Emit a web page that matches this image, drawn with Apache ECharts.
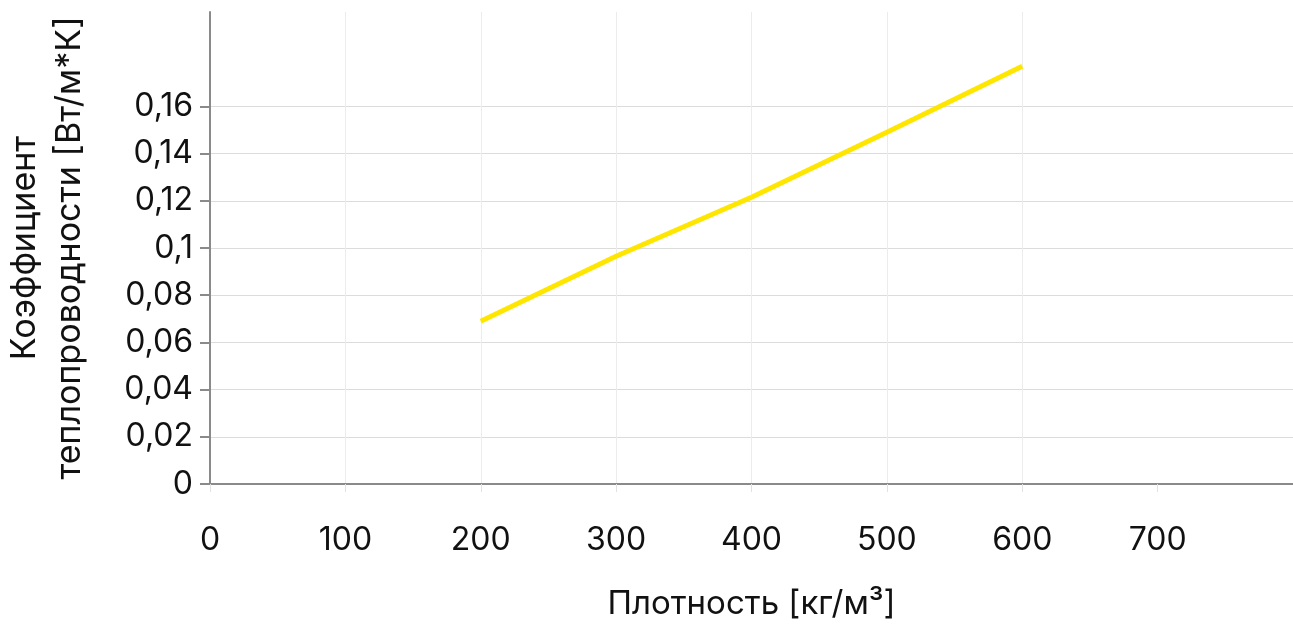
<!DOCTYPE html>
<html>
<head>
<meta charset="utf-8">
<style>
  html, body { margin: 0; padding: 0; background: #fff; }
  #chart { width: 1293px; height: 624px; }
</style>
<script src="https://cdn.jsdelivr.net/npm/echarts@6/dist/echarts.min.js"></script>
</head>
<body>
<div id="chart"></div>
<script>
// density, kg/m3
const density = [200, 300, 400, 500, 600];
// thermal conductivity, W/(m*K)
const conductivity = [0.069, 0.0965, 0.1215, 0.149, 0.177];
const yTicks = [0, 0.02, 0.04, 0.06, 0.08, 0.1, 0.12, 0.14, 0.16];
const xTicks = [0, 100, 200, 300, 400, 500, 600, 700];

const fontFamily = "Inter, 'Noto Sans', sans-serif";
const fmt = (v) => String(+(+v).toFixed(2)).replace(".", ",");

const chart = echarts.init(document.getElementById("chart"));
chart.setOption({
  animation: false,
  textStyle: { fontFamily },
  grid: {
    left: 210,
    right: 0,
    top: 12,
    bottom: 140,
    containLabel: false,
    outerBoundsMode: "none",
  },
  xAxis: {
    type: "value",
    min: 0,
    max: 800,
    interval: 100,
    name: "Плотность [кг/м³]",
    nameLocation: "middle",
    nameGap: 104,
    nameTextStyle: { fontSize: 33, color: "#111", fontFamily },
    axisLine: { lineStyle: { color: "#8a8a8a", width: 2 } },
    axisTick: {
      show: true,
      length: 8,
      lineStyle: { color: "#e2e2e2" },
      customValues: xTicks,
    },
    axisLabel: {
      fontSize: 32,
      color: "#111",
      margin: 40,
      customValues: xTicks,
    },
    splitLine: {
      show: true,
      showMaxLine: false,
      lineStyle: { color: "#ececec", width: 1 },
    },
  },
  yAxis: {
    type: "value",
    min: 0,
    max: 0.2,
    interval: 0.02,
    name: "Коэффициент\nтеплопроводности [Вт/м*К]",
    nameLocation: "middle",
    nameRotate: 90,
    nameGap: 118,
    nameTextStyle: { fontSize: 34, color: "#111", lineHeight: 45, fontFamily },
    axisLine: { show: true, lineStyle: { color: "#8a8a8a", width: 2 } },
    axisTick: {
      show: true,
      length: 10,
      lineStyle: { color: "#8a8a8a", width: 2 },
      customValues: yTicks,
    },
    axisLabel: {
      fontSize: 32,
      color: "#111",
      margin: 17,
      formatter: fmt,
      customValues: yTicks,
    },
    splitLine: {
      show: true,
      lineStyle: { color: "#dcdcdc", width: 1 },
    },
  },
  series: [
    {
      type: "line",
      data: density.map((d, i) => [d, conductivity[i]]),
      showSymbol: false,
      lineStyle: { color: "#ffe600", width: 5 },
      itemStyle: { color: "#ffe600" },
    },
  ],
});
</script>
</body>
</html>
